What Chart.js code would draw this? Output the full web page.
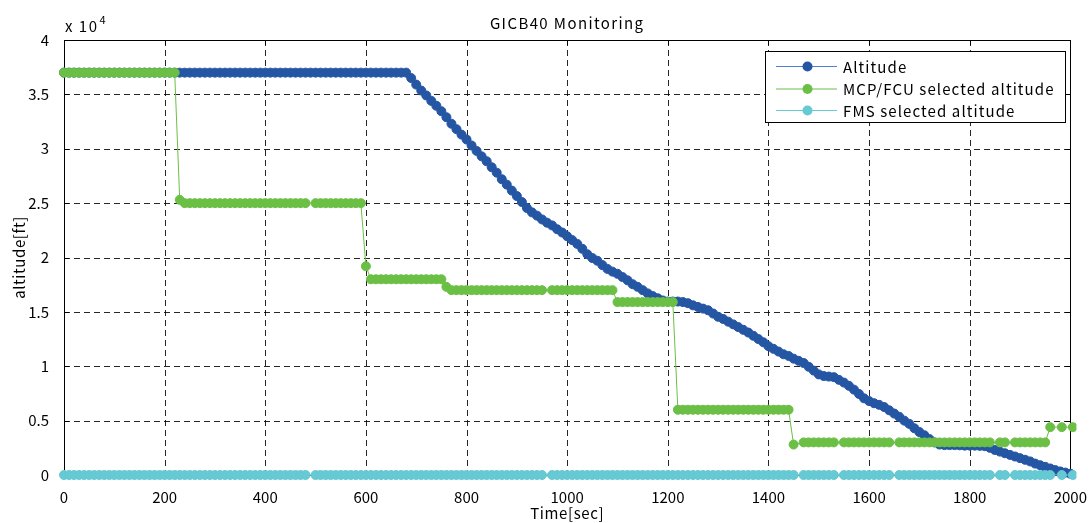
<!DOCTYPE html>
<html><head><meta charset="utf-8">
<script src="https://cdn.jsdelivr.net/npm/chart.js@4.4.0/dist/chart.umd.min.js"></script>
<style>html,body{margin:0;padding:0;background:#fff;}#wrap{width:1092px;height:523px;}</style>
</head><body><div id="wrap"><canvas id="c" width="1092" height="523"></canvas></div>
<script>
// sample times of the Altitude series [sec]
const altTime = [
  0,10,20,30,40,50,60,70,80,90,100,110,120,130,140,150,160,170,180,190,
  200,210,220,230,240,250,260,270,280,290,300,310,320,330,340,350,360,370,380,390,
  400,410,420,430,440,450,460,470,480,490,500,510,520,530,540,550,560,570,580,590,
  600,610,620,630,640,650,660,670,680,690,700,710,720,730,740,750,760,770,780,790,
  800,810,820,830,840,850,860,870,880,890,900,910,920,930,940,950,960,970,980,990,
  1000,1010,1020,1030,1040,1050,1060,1070,1080,1090,1100,1110,1120,1130,1140,1150,1160,1170,1180,1190,
  1200,1210,1220,1230,1240,1250,1260,1270,1280,1290,1300,1310,1320,1330,1340,1350,1360,1370,1380,1390,
  1400,1410,1420,1430,1440,1450,1460,1470,1480,1490,1500,1510,1520,1530,1540,1550,1560,1570,1580,1590,
  1600,1610,1620,1630,1640,1650,1660,1670,1680,1690,1700,1710,1720,1730,1740,1750,1760,1770,1780,1790,
  1800,1810,1820,1830,1840,1850,1860,1870,1880,1890,1900,1910,1920,1930,1940,1950,1960,1970,1980,1990,
  2000
];
// Altitude [ft]
const altitude = [
  37000,37000,37000,37000,37000,37000,37000,37000,37000,37000,
  37000,37000,37000,37000,37000,37000,37000,37000,37000,37000,
  37000,37000,37000,37000,37000,37000,37000,37000,37000,37000,
  37000,37000,37000,37000,37000,37000,37000,37000,37000,37000,
  37000,37000,37000,37000,37000,37000,37000,37000,37000,37000,
  37000,37000,37000,37000,37000,37000,37000,37000,37000,37000,
  37000,37000,37000,37000,37000,37000,37000,37000,37000,
  36500,35900,35350,34900,34400,33950,33450,32900,32300,31800,31300,30850,30300,29800,29300,28850,28300,27800,27200,26700,26150,25650,25100,24550,24150,23850,23500,
  23200,
  22950,22600,22300,21950,21600,21250,20800,20300,19950,19700,
  19300,18950,18700,18500,18200,17900,17550,17300,17000,16700,
  16450,16250,16050,15950,15950,15950,15900,15800,15600,15450,
  15300,15150,14850,14550,14350,14100,13850,13600,13350,13100,
  12800,12500,12200,11850,11600,11350,11100,10950,10700,
  10500,
  10300,9950,9600,9250,9100,9050,9000,
  8750,
  8500,8200,7850,7450,7050,6800,6600,6450,6250,5950,
  5650,
  5350,5000,4700,4300,3950,3650,3300,3000,2800,2750,2750,2750,2730,2700,2700,2700,2680,2650,2500,
  2300,
  2150,2000,
  1850,
  1700,1550,1400,1250,1050,900,750,600,
  450,330,220,120
];
// sample times of the selected-altitude series [sec]
const time = [
  0,10,20,30,40,50,60,70,80,90,100,110,120,130,140,150,160,170,180,190,200,210,220,230,240,250,260,270,280,290,300,310,320,330,340,350,360,370,380,390,400,410,420,430,440,450,460,470,480,
  500,510,520,530,540,550,560,570,580,590,600,610,620,630,640,650,660,670,680,690,700,710,720,730,740,750,760,770,780,790,800,810,820,830,840,850,860,870,880,890,900,910,920,930,940,950,
  970,980,990,1000,1010,1020,1030,1040,1050,1060,1070,1080,1090,1100,1110,1120,1130,1140,1150,1160,1170,1180,1190,1200,1210,1220,1230,1240,1250,1260,1270,1280,1290,1300,1310,1320,1330,1340,1350,1360,1370,1380,1390,1400,1410,1420,1430,1440,1450,
  1470,1480,1490,1500,1510,1520,1530,
  1550,1560,1570,1580,1590,1600,1610,1620,1630,1640,
  1660,1670,1680,1690,1700,1710,1720,1730,1740,1750,1760,1770,1780,1790,1800,1810,1820,1830,1840,
  1860,1870,
  1890,1900,1910,1920,1930,1940,1950,1960,
  1983,2005
];
// MCP/FCU selected altitude [ft]
const mcpSelected = [
  37000,37000,37000,37000,37000,37000,37000,37000,37000,37000,37000,37000,37000,37000,37000,37000,37000,37000,37000,37000,37000,37000,37000,
  25300,
  25000,25000,25000,25000,25000,25000,25000,25000,25000,25000,25000,25000,25000,25000,25000,25000,25000,25000,25000,25000,25000,25000,25000,25000,25000,
  25000,25000,25000,25000,25000,25000,25000,25000,25000,25000,
  19200,
  18000,18000,18000,18000,18000,18000,18000,18000,18000,18000,18000,18000,18000,18000,18000,
  17300,
  17000,17000,17000,17000,17000,17000,17000,17000,17000,17000,17000,17000,17000,17000,17000,17000,17000,17000,17000,
  17000,17000,17000,17000,17000,17000,17000,17000,17000,17000,17000,17000,17000,
  15900,15900,15900,15900,15900,15900,15900,15900,15900,15900,15900,15900,
  6000,6000,6000,6000,6000,6000,6000,6000,6000,6000,6000,6000,6000,6000,6000,6000,6000,6000,6000,6000,6000,6000,6000,
  2800,
  3000,3000,3000,3000,3000,3000,3000,
  3000,3000,3000,3000,3000,3000,3000,3000,3000,3000,
  3000,3000,3000,3000,3000,3000,3000,3000,3000,3000,3000,3000,3000,3000,3000,3000,3000,3000,3000,
  3000,3000,
  3000,3000,3000,3000,3000,3000,3000,4400,
  4400,4400
];
// FMS selected altitude [ft]
const fmsSelected = [
  0,0,0,0,0,0,0,0,0,0,0,0,0,0,0,0,0,0,0,0,0,0,0,0,0,0,0,0,0,0,0,0,0,0,0,0,0,0,0,0,0,0,0,0,0,0,0,0,0,
  0,0,0,0,0,0,0,0,0,0,0,0,0,0,0,0,0,0,0,0,0,0,0,0,0,0,0,0,0,0,0,0,0,0,0,0,0,0,0,0,0,0,0,0,0,0,
  0,0,0,0,0,0,0,0,0,0,0,0,0,0,0,0,0,0,0,0,0,0,0,0,0,0,0,0,0,0,0,0,0,0,0,0,0,0,0,0,0,0,0,0,0,0,0,0,0,
  0,0,0,0,0,0,0,
  0,0,0,0,0,0,0,0,0,0,
  0,0,0,0,0,0,0,0,0,0,0,0,0,0,0,0,0,0,0,
  0,0,
  0,0,0,0,0,0,0,0,
  0,0
];
const seriesNames = ['Altitude','MCP/FCU selected altitude','FMS selected altitude'];
const xTicks = [0,200,400,600,800,1000,1200,1400,1600,1800,2000];
const yTicks = [0,5000,10000,15000,20000,25000,30000,35000,40000];
const titleText = 'GICB40 Monitoring';
const xLabel = 'Time[sec]';
const yLabel = 'altitude[ft]';

const FONT = '"Noto Sans CJK JP", "Noto Sans", sans-serif';
const colors = [
  {line:'#4f7fd2', mark:'#2456a4'},
  {line:'#6bbf45', mark:'#6bbf45'},
  {line:'#66c9d3', mark:'#66c9d3'}
];
const pts = (tt, arr) => tt.map((t,i)=>({x:t, y:arr[i]}));
const mk = (i, tt, arr, order) => ({
  label: seriesNames[i], data: pts(tt, arr), order,
  borderColor: colors[i].line, backgroundColor: colors[i].mark,
  pointBackgroundColor: colors[i].mark, pointBorderColor: colors[i].mark,
  borderWidth: 1, pointRadius: 4.5, pointBorderWidth: 1, pointHoverRadius: 4.5,
  tension: 0, clip: 6
});

function txt(ctx, s, x, y, spacing){
  ctx.letterSpacing = spacing + 'px';
  ctx.fillText(s, x, y);
  ctx.letterSpacing = '0px';
}

const decor = {
  id:'decor',
  beforeDatasetsDraw(chart){
    const {ctx, chartArea:a, scales:{x,y}} = chart;
    ctx.save();
    ctx.lineWidth = 1;
    ctx.strokeStyle = 'rgba(0,0,0,0.85)';
    ctx.setLineDash([6,4]);
    xTicks.forEach(v=>{ const px = Math.round(x.getPixelForValue(v))+0.5;
      ctx.beginPath(); ctx.moveTo(px,a.top); ctx.lineTo(px,a.bottom); ctx.stroke(); });
    yTicks.forEach(v=>{ const py = Math.round(y.getPixelForValue(v))+0.5;
      ctx.beginPath(); ctx.moveTo(a.left,py); ctx.lineTo(a.right,py); ctx.stroke(); });
    ctx.setLineDash([]);
    ctx.strokeStyle = '#000';
    xTicks.forEach(v=>{ const px = Math.round(x.getPixelForValue(v))+0.5;
      ctx.beginPath(); ctx.moveTo(px,a.bottom); ctx.lineTo(px,a.bottom-5); ctx.moveTo(px,a.top); ctx.lineTo(px,a.top+5); ctx.stroke(); });
    yTicks.forEach(v=>{ const py = Math.round(y.getPixelForValue(v))+0.5;
      ctx.beginPath(); ctx.moveTo(a.left,py); ctx.lineTo(a.left+5,py); ctx.moveTo(a.right,py); ctx.lineTo(a.right-5,py); ctx.stroke(); });
    ctx.strokeRect(Math.round(a.left)+0.5, Math.round(a.top)+0.5, Math.round(a.right-a.left), Math.round(a.bottom-a.top));
    ctx.restore();
  },
  afterDatasetsDraw(chart){
    const {ctx, chartArea:a} = chart;
    ctx.save();
    ctx.fillStyle = '#000';
    // title
    ctx.font = '15px ' + FONT;
    ctx.textAlign = 'center'; ctx.textBaseline = 'middle';
    txt(ctx, titleText, (a.left+a.right)/2, 23, 1.4);
    // exponent
    ctx.textAlign = 'left'; ctx.textBaseline = 'alphabetic';
    ctx.font = '15px ' + FONT;
    txt(ctx, 'x 10', a.left+1, 32, 1.5);
    ctx.letterSpacing = '1.5px';
    const w = ctx.measureText('x 10').width;
    ctx.letterSpacing = '0px';
    ctx.font = '11px ' + FONT;
    ctx.fillText('4', a.left+1+w+1, 24);
    // axis labels
    ctx.font = '15px ' + FONT;
    ctx.textAlign = 'center'; ctx.textBaseline = 'middle';
    txt(ctx, xLabel, (a.left+a.right)/2, 513, 0.6);
    ctx.save();
    ctx.translate(19, (a.top+a.bottom)/2);
    ctx.rotate(-Math.PI/2);
    txt(ctx, yLabel, 0, 0, 0.6);
    ctx.restore();
    // legend
    const L = {x:765, y:51, w:300, h:71};
    ctx.fillStyle = '#fff';
    ctx.fillRect(L.x, L.y, L.w, L.h);
    ctx.strokeStyle = '#000'; ctx.lineWidth = 1;
    ctx.strokeRect(L.x+0.5, L.y+0.5, L.w, L.h);
    const rows = [66, 88.5, 110];
    seriesNames.forEach((n,i)=>{
      const yy = rows[i];
      ctx.strokeStyle = colors[i].line; ctx.lineWidth = 1;
      ctx.beginPath(); ctx.moveTo(776, yy+0.5); ctx.lineTo(837, yy+0.5); ctx.stroke();
      ctx.fillStyle = colors[i].mark;
      ctx.beginPath(); ctx.arc(807.5, yy+0.5, 5, 0, Math.PI*2); ctx.fill();
      ctx.fillStyle = '#000';
      ctx.font = '15px ' + FONT;
      ctx.textAlign = 'left'; ctx.textBaseline = 'middle';
      txt(ctx, n, 843, yy+1, 1.1);
    });
    ctx.restore();
  }
};

new Chart(document.getElementById('c'), {
  type: 'line',
  data: { datasets: [ mk(0, altTime, altitude, 3), mk(1, time, mcpSelected, 2), mk(2, time, fmsSelected, 1) ] },
  options: {
    responsive: false, animation: false, devicePixelRatio: 1,
    layout: { padding: { left: 0, right: 19, top: 40, bottom: 0 } },
    plugins: { legend: {display:false}, title:{display:false}, tooltip:{enabled:false} },
    scales: {
      x: { type:'linear', min:0, max:2000,
        afterBuildTicks: s => { s.ticks = xTicks.map(v=>({value:v})); },
        afterFit: s => { s.height = 48; },
        grid: {display:false}, border:{display:false},
        ticks: { color:'#000', font:{family:FONT, size:15}, padding:5, maxRotation:0, autoSkip:false,
          callback: v => String(v) }
      },
      y: { min:0, max:40000,
        afterBuildTicks: s => { s.ticks = yTicks.map(v=>({value:v})); },
        afterFit: s => { s.width = 64; },
        grid: {display:false}, border:{display:false},
        ticks: { color:'#000', font:{family:FONT, size:15}, padding:7,
          callback: v => String(v/10000) }
      }
    }
  },
  plugins: [decor]
});
</script></body></html>
